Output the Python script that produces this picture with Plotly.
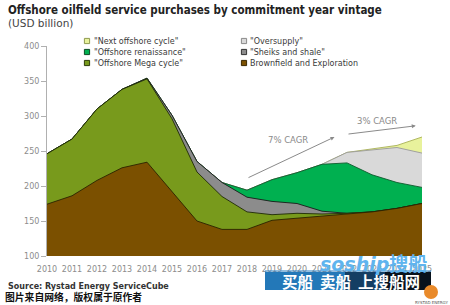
import plotly.graph_objects as go

# ---------------- data ----------------
years = list(range(2010, 2026))
brownfield = [174, 186, 208, 226, 234, 192, 150, 138, 138, 151, 154, 158, 161, 163, 168, 175]
mega_cycle = [72, 81, 102, 112, 119, 104, 70, 47, 25, 8, 7, 2, 0, 0, 0, 0]
sheiks_shale = [0, 0, 0, 0, 1, 5, 15, 20, 21, 19, 14, 4, 0, 0, 0, 0]
renaissance = [0, 0, 0, 0, 0, 0, 0, 0, 10, 31, 44, 67, 72, 53, 37, 23]
oversupply = [0, 0, 0, 0, 0, 0, 0, 0, 0, 0, 0, 0, 15, 36, 50, 49]
next_cycle = [0, 0, 0, 0, 0, 0, 0, 0, 0, 0, 0, 0, 0, 1, 3, 23]

series_names = ['Brownfield and Exploration', '"Offshore Mega cycle"', '"Sheiks and shale"',
                '"Offshore renaissance"', '"Oversupply"', '"Next offshore cycle"']
series_values = [brownfield, mega_cycle, sheiks_shale, renaissance, oversupply, next_cycle]
fill_colors = ['#7b5000', '#789a1c', '#8c8c8c', '#00b050', '#d9d9d9', '#e8f29c']
line_colors = ['#2b2200', '#1f2a05', '#1a1a1a', '#0d5a2c', '#9a9a9a', '#a8b055']
legend_borders = ['#3a2800', '#2f3d08', '#333333', '#0d4a24', '#8a8a8a', '#8f9a50']

cagr_labels = ["7% CAGR", "3% CAGR"]
cagr_tail = [(2018.0, 211), (2022.0, 274)]
cagr_head = [(2021.5, 270), (2024.75, 286)]
cagr_text_pos = [(2019.65, 266), (2023.2, 293)]

ytick_vals = [100, 150, 200, 250, 300, 350, 400]
xtick_labels = [str(y) for y in years]

# ---------------- layout helpers ----------------
W, H = 450, 305
L, R, T, B = 47, 28, 46, 49
PW, PH = W - L - R, H - T - B


def px(x):
    return (x - L) / PW


def py(y):
    return (H - B - y) / PH


# cumulative tops
cum = []
run = [0] * len(years)
for vals in series_values:
    run = [a + b for a, b in zip(run, vals)]
    cum.append(run)

fig = go.Figure()
# painter's order: topmost cumulative first, brownfield last
for i in reversed(range(len(series_values))):
    fig.add_trace(go.Scatter(
        x=years, y=cum[i], mode='lines', fill='tozeroy',
        fillcolor=fill_colors[i],
        line=dict(color=line_colors[i], width=0.9),
        name=series_names[i], showlegend=False, hoverinfo='skip'))

shapes = []
annotations = []

# manual legend (two columns)
legend_layout = [
    (5, 87, 92, 41), (4, 244, 248, 41),
    (3, 87, 92, 52), (2, 244, 248, 52),
    (1, 87, 92, 63), (0, 244, 248, 63),
]
for idx, mx, tx, yy in legend_layout:
    shapes.append(dict(type='rect', xref='paper', yref='paper',
                       x0=px(mx - 2.6), x1=px(mx + 2.6), y0=py(yy + 2.6), y1=py(yy - 2.6),
                       fillcolor=fill_colors[idx], line=dict(color=legend_borders[idx], width=1)))
    annotations.append(dict(xref='paper', yref='paper', x=px(tx), y=py(yy),
                            xanchor='left', yanchor='middle', showarrow=False,
                            text=series_names[idx],
                            font=dict(family='DejaVu Sans', size=8, color='#3a3a3a')))

# CAGR arrows and labels
for lab, (tx0, ty0), (hx, hy), (lx, ly) in zip(cagr_labels, cagr_tail, cagr_head, cagr_text_pos):
    annotations.append(dict(x=hx, y=hy, ax=tx0, ay=ty0, xref='x', yref='y', axref='x', ayref='y',
                            showarrow=True, arrowhead=2, arrowsize=0.8, arrowwidth=1,
                            arrowcolor='#8a8a8a', text=''))
    annotations.append(dict(x=lx, y=ly, xref='x', yref='y', showarrow=False, text=lab,
                            font=dict(family='DejaVu Sans', size=8.5, color='#8a8a8a')))

# titles and source
annotations += [
    dict(xref='paper', yref='paper', x=px(6), y=py(10.5), xanchor='left', yanchor='middle',
         showarrow=False, text='<b>Offshore oilfield service purchases by commitment year vintage</b>',
         font=dict(family='DejaVu Sans Condensed, DejaVu Sans', size=11.5, color='#222222')),
    dict(xref='paper', yref='paper', x=px(6), y=py(23.5), xanchor='left', yanchor='middle',
         showarrow=False, text='(USD billion)',
         font=dict(family='DejaVu Sans', size=10.5, color='#444444')),
    dict(xref='paper', yref='paper', x=px(6), y=py(286), xanchor='left', yanchor='middle',
         showarrow=False, text='<b>Source: Rystad Energy ServiceCube</b>',
         font=dict(family='DejaVu Sans', size=8, color='#333333')),
    dict(xref='paper', yref='paper', x=px(3), y=py(297), xanchor='left', yanchor='middle',
         showarrow=False, text='<b>图片来自网络，版权属于原作者</b>',
         font=dict(family='Noto Sans CJK SC', size=9.8, color='#111111')),
]

# watermark overlay
shapes += [
    dict(type='rect', xref='paper', yref='paper', x0=px(265), x1=px(345), y0=py(290), y1=py(272),
         fillcolor='#2378b8', line=dict(width=0)),
    dict(type='rect', xref='paper', yref='paper', x0=px(345), x1=px(385), y0=py(290), y1=py(272),
         fillcolor='#143e63', line=dict(width=0)),
    dict(type='rect', xref='paper', yref='paper', x0=px(385), x1=px(431), y0=py(290), y1=py(272),
         fillcolor='#08121c', line=dict(width=0)),
    dict(type='line', xref='paper', yref='paper', x0=px(265), x1=px(431), y0=py(271), y1=py(271),
         line=dict(color='#2a7fc0', width=1)),
    dict(type='circle', xref='paper', yref='paper', x0=px(424), x1=px(438), y0=py(299), y1=py(285),
         fillcolor='#e98a2a', line=dict(width=0)),
]
annotations += [
    dict(xref='paper', yref='paper', x=px(351), y=py(281), xanchor='center', yanchor='middle',
         showarrow=False, text='<b>买船  卖船  上搜船网</b>',
         font=dict(family='Noto Sans CJK SC', size=15.5, color='#ffffff')),
    dict(xref='paper', yref='paper', x=px(373), y=py(264), xanchor='center', yanchor='middle',
         showarrow=False, text='<b><i>soship</i>搜船</b>',
         font=dict(family='DejaVu Sans, Noto Sans CJK SC', size=19, color='#5fb4ee')),
    dict(xref='paper', yref='paper', x=px(431), y=py(302), xanchor='center', yanchor='middle',
         showarrow=False, text='RYSTAD ENERGY',
         font=dict(family='DejaVu Sans', size=4, color='#555555')),
]

fig.update_layout(
    width=W, height=H,
    margin=dict(l=L, r=R, t=T, b=B),
    paper_bgcolor='white', plot_bgcolor='white',
    showlegend=False,
    shapes=shapes, annotations=annotations,
    xaxis=dict(range=[2010, 2025], tickmode='array', tickvals=years, ticktext=xtick_labels,
               showgrid=False, zeroline=False, showline=False,
               ticks='outside', ticklen=5, tickcolor='rgba(0,0,0,0)',
               tickfont=dict(family='DejaVu Sans', size=8, color='#8c8c8c')),
    yaxis=dict(range=[100, 400], tickmode='array', tickvals=ytick_vals,
               showgrid=False, zeroline=False, showline=True, linecolor='#b0b0b0', linewidth=1,
               ticks='outside', ticklen=5, tickcolor='#b0b0b0',
               tickfont=dict(family='DejaVu Sans', size=8, color='#8c8c8c')),
)

fig.write_html("out.html")
